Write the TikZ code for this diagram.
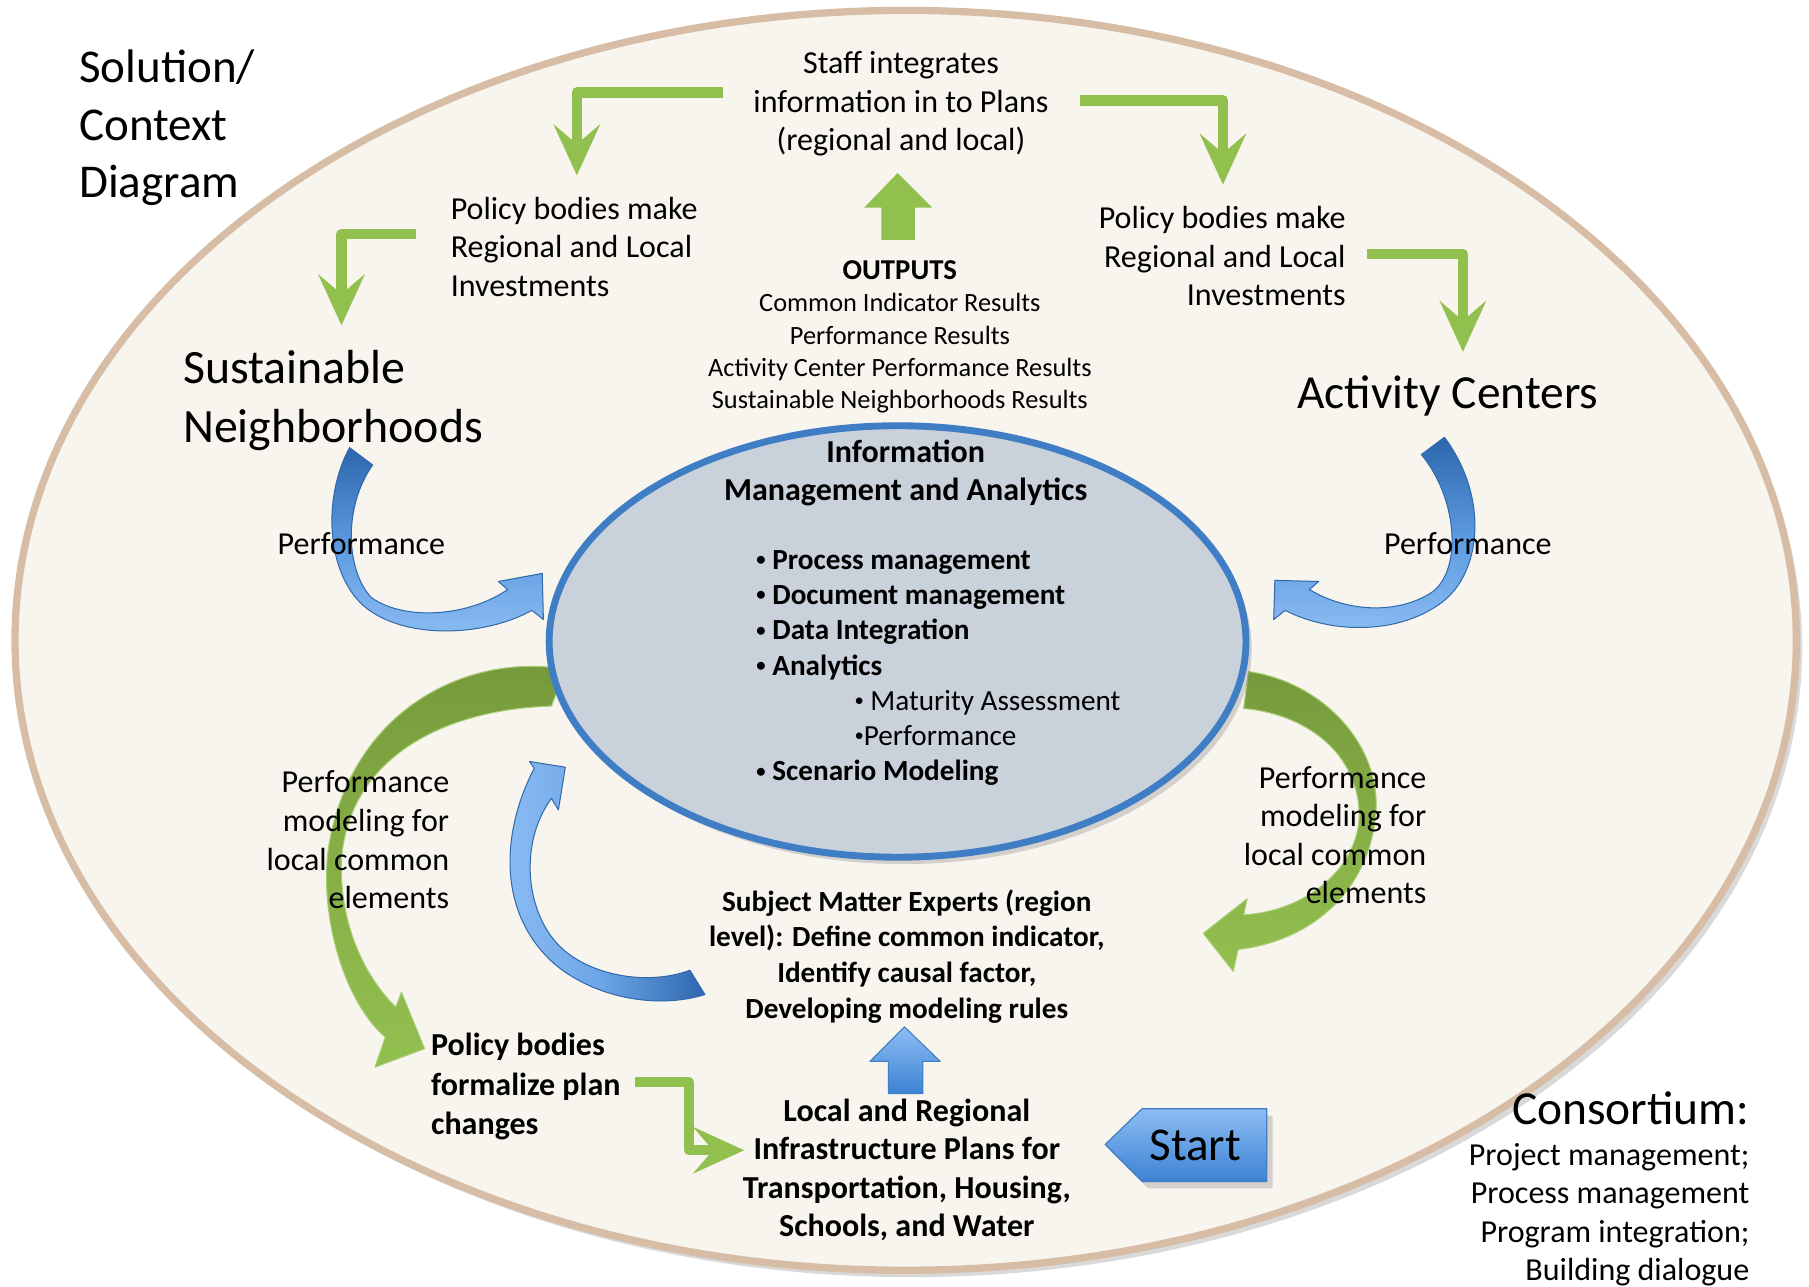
\documentclass[tikz,border=0pt]{standalone}
\usepackage{fontspec}
\setmainfont{Carlito}
\usetikzlibrary{arrows.meta,calc,shadows}

\definecolor{creamfill}{HTML}{F8F4EE}
\definecolor{tanrim}{HTML}{D7BDA5}
\definecolor{hubfill}{HTML}{C9D1DB}
\definecolor{hubrim}{HTML}{3F7EC4}
\definecolor{leafgreen}{HTML}{92C04F}
\definecolor{olivegreen}{HTML}{76993B}
\definecolor{deepblue}{HTML}{2D66AD}
\definecolor{skyblue}{HTML}{8DBDF3}
\definecolor{midblue}{HTML}{3C83D4}

% small list bullet
\newcommand{\hubdot}{\raisebox{0.9pt}{\fontsize{4.6}{5}\selectfont •}}

\begin{document}
\begin{tikzpicture}[
    x=0.1mm, y=-0.1mm,
    line join=round,
    txt/.style={font=\fontsize{7.9}{9.5}\selectfont, inner sep=0pt},
    boldtxt/.style={font=\fontsize{7.9}{9.5}\selectfont\bfseries, inner sep=0pt},
    bigtxt/.style={font=\fontsize{11.7}{14.3}\selectfont, inner sep=0pt},
    elbow/.style={leafgreen, line width=0.9mm,
    -{Stealth[length=4.4mm, width=4mm, inset=1.7mm]}},
    greenribbon/.style={draw=leafgreen!80!white, line width=0.25pt,
    top color=olivegreen, bottom color=leafgreen,
    middle color=olivegreen!45!leafgreen},
    blueribbon/.style={draw=midblue!80!black, line width=0.25pt,
    top color=deepblue, bottom color=skyblue,
    middle color=midblue!60!skyblue},
    softshadow/.style={drop shadow={opacity=0.3, shadow xshift=0.5mm,
    shadow yshift=-0.6mm}}
  ]

\useasboundingbox (0,0) rectangle (1568,1115);

% ============================================================
% OUTER CONTEXT ELLIPSE
% ============================================================
\path[softshadow, fill=creamfill, draw=tanrim, line width=1.8pt]
  (785,555) ellipse [x radius=772, y radius=546];

% ============================================================
% GREEN CURVED ARROWS (performance modeling)
% ============================================================
\path[greenribbon]
  (490,580) .. controls (400,565) and (300,620) .. (284,740)
  .. controls (278,800) and (300,870) .. (334,899)
  -- (325,925) -- (368,909) -- (348,860) -- (343,873)
  .. controls (312,842) and (294,795) .. (296,745)
  .. controls (302,660) and (380,615) .. (478,612) -- cycle;

\path[greenribbon]
  (1082,582) .. controls (1150,592) and (1200,650) .. (1192,710)
  .. controls (1185,770) and (1140,815) .. (1073,823)
  -- (1069,842) -- (1043,809) -- (1081,779) -- (1078,793)
  .. controls (1130,790) and (1175,755) .. (1178,710)
  .. controls (1180,660) and (1140,620) .. (1078,614) -- cycle;

% ============================================================
% INNER HUB ELLIPSE
% ============================================================
\path[softshadow, fill=hubfill, draw=hubrim, line width=1.7pt]
  (778,556) ellipse [x radius=302, y radius=187];

% ============================================================
% BLUE CURVED ARROWS (performance feedback)
% ============================================================
\path[blueribbon]
  (303,388) .. controls (280,430) and (282,495) .. (315,525)
  .. controls (350,555) and (420,552) .. (461,529)
  -- (471,537) -- (470,497) -- (432,504) -- (440,511)
  .. controls (405,535) and (350,538) .. (322,518)
  .. controls (300,495) and (297,440) .. (323,403) -- cycle;

\path[blueribbon]
  (1252,379) .. controls (1290,430) and (1285,495) .. (1250,522)
  .. controls (1210,552) and (1150,548) .. (1114,529)
  -- (1104,537) -- (1105,503) -- (1143,504) -- (1135,511)
  .. controls (1170,532) and (1215,532) .. (1243,512)
  .. controls (1268,490) and (1262,430) .. (1232,394) -- cycle;

\path[blueribbon, left color=skyblue, right color=deepblue,
  middle color=midblue!40!skyblue]
  (463,666) .. controls (435,720) and (430,790) .. (480,835)
  .. controls (515,865) and (570,875) .. (611,862)
  -- (598,841) .. controls (560,855) and (510,845) .. (485,820)
  .. controls (455,790) and (450,730) .. (478,692)
  -- (484,702) -- (490,665) -- (459,660) -- cycle;

% ============================================================
% BLOCK ARROWS
% ============================================================
% outputs -> staff
\fill[leafgreen]
  (764,208) -- (764,180) -- (749,180) -- (778,150)
  -- (808,180) -- (793,180) -- (793,208) -- cycle;

% plans -> experts
\path[draw=hubrim, line width=0.25pt, top color=skyblue, bottom color=midblue]
  (770,948) -- (770,920) -- (754,920) -- (784,890)
  -- (815,920) -- (800,920) -- (800,948) -- cycle;

% start tag
\path[softshadow, draw=hubrim, line width=0.3pt,
  top color=skyblue, bottom color=midblue]
  (958,992) -- (990,961) -- (1098,961) -- (1098,1024) -- (990,1024) -- cycle;

% ============================================================
% GREEN ELBOW ARROWS
% ============================================================
\coordinate (aS) at (627,80);   \coordinate (aT) at (500,152);
\coordinate (bS) at (936,87);   \coordinate (bT) at (1060,160);
\coordinate (cS) at (361,203);  \coordinate (cT) at (296,282);
\coordinate (dS) at (1185,220); \coordinate (dT) at (1268,305);
\coordinate (eS) at (550,938);  \coordinate (eK) at (597,938);
\coordinate (eT) at (645,997);

\draw[elbow] (aS) -| (aT);
\draw[elbow] (bS) -| (bT);
\draw[elbow] (cS) -| (cT);
\draw[elbow] (dS) -| (dT);
\draw[elbow] (eS) -- (eK) |- (eT);

% ============================================================
% TEXT
% ============================================================
\node[bigtxt, align=left, anchor=west, font=\fontsize{11.6}{14.2}\selectfont]
  (title) at (68,111) {Solution/\\Context\\Diagram};

\node[txt, align=center] (staff) at (781,90)
  {Staff integrates\\information in to Plans\\(regional and local)};

\node[txt, align=left, anchor=west] (policyL) at (390,214)
  {Policy bodies make\\Regional and Local\\Investments};
\node[txt, align=right, anchor=east] (policyR) at (1167,222)
  {Policy bodies make\\Regional and Local\\Investments};

\node[align=center, inner sep=0pt, font=\fontsize{6.5}{8}\selectfont]
  (outputs) at (780,292)
  {{\fontsize{7.1}{8}\selectfont\bfseries OUTPUTS}\\Common Indicator Results\\
   Performance Results\\Activity Center Performance Results\\
   Sustainable Neighborhoods Results};

\node[bigtxt, align=left, anchor=west, font=\fontsize{11.8}{14.5}\selectfont]
  (sustain) at (158,347) {Sustainable\\Neighborhoods};
\node[bigtxt] (activity) at (1255,343) {Activity Centers};

\node[txt, anchor=west] (perfL) at (240,471) {Performance};
\node[txt, anchor=west] (perfR) at (1199,471) {Performance};

% hub contents
\node[boldtxt, align=center] (hubtitle) at (785,410)
  {Information\\Management and Analytics};
\node[align=left, anchor=west, inner sep=0pt, font=\fontsize{7.2}{8.7}\selectfont]
  (hublist) at (655,579)
  {\textbf{\hubdot\ Process management}\\ \textbf{\hubdot\ Document management}\\
   \textbf{\hubdot\ Data Integration}\\ \textbf{\hubdot\ Analytics}\\
   \hspace*{8.5mm}\hubdot\ Maturity Assessment\\ \hspace*{8.5mm}\hubdot Performance\\
   \textbf{\hubdot\ Scenario Modeling}};

\node[txt, align=right, anchor=east] (modelL) at (390,728)
  {Performance\\modeling for\\local common\\elements};
\node[txt, align=right, anchor=east] (modelR) at (1237,724)
  {Performance\\modeling for\\local common\\elements};

\node[align=center, inner sep=0pt, font=\fontsize{7.2}{8.8}\selectfont\bfseries]
  (sme) at (786,829)
  {Subject Matter Experts (region\\level): Define common indicator,\\
   Identify causal factor,\\Developing modeling rules};

\node[boldtxt, align=center] (plans) at (786,1014)
  {Local and Regional\\Infrastructure Plans for\\
   Transportation, Housing,\\Schools, and Water};

\node[boldtxt, align=left, anchor=west, font=\fontsize{7.9}{9.7}\selectfont\bfseries]
  (formalize) at (373,942) {Policy bodies\\formalize plan\\changes};

\node[bigtxt, font=\fontsize{11.6}{14}\selectfont] (start) at (1036,993) {Start};

\node[bigtxt, anchor=east] (consort) at (1517,961) {Consortium:};
\node[txt, align=right, anchor=east] (consortlist) at (1517,1053)
  {Project management;\\Process management\\Program integration;\\Building dialogue};

\end{tikzpicture}
\end{document}
